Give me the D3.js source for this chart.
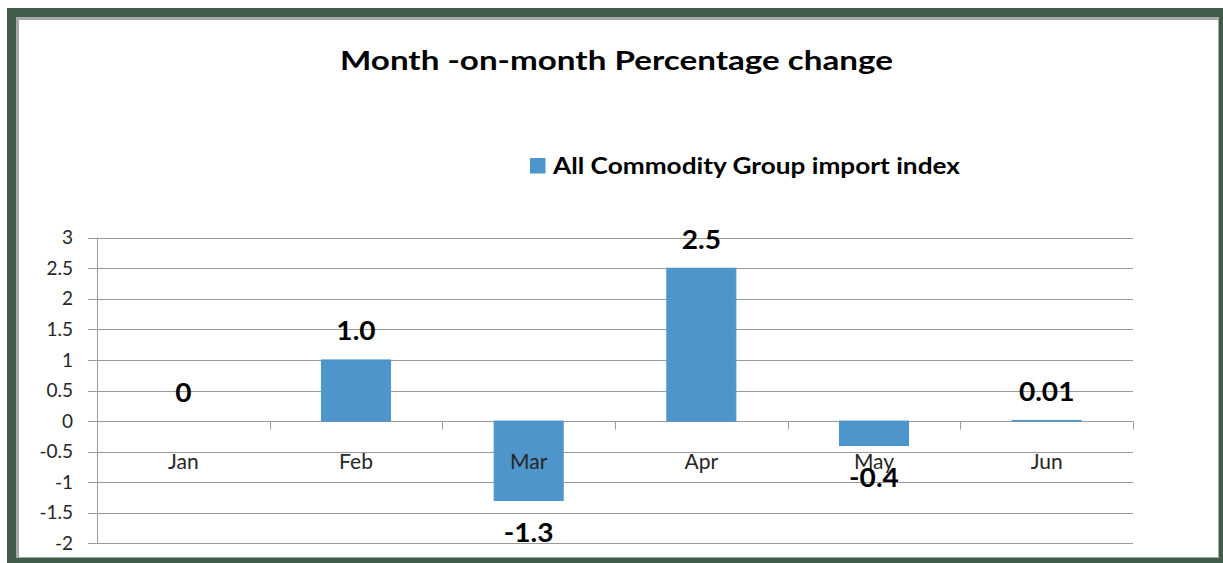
<!DOCTYPE html>
<html><head><meta charset="utf-8">
<script src="https://cdn.jsdelivr.net/npm/d3@7"></script>
<style>html,body{margin:0;padding:0;background:#fff;}svg{display:block;}</style>
</head><body>
<script>
const categories = ["Jan","Feb","Mar","Apr","May","Jun"];
const values = [0, 1.0, -1.3, 2.5, -0.4, 0.01];
const valueLabels = ["0","1.0","-1.3","2.5","-0.4","0.01"];
const yTicks = [3,2.5,2,1.5,1,0.5,0,-0.5,-1,-1.5,-2];
const seriesName = "All Commodity Group import index";
const title = "Month -on-month Percentage change";

const W = 1223, H = 563;
const svg = d3.select("body").append("svg").attr("width", W).attr("height", H);
const font = "Lato, 'Open Sans', sans-serif";

function stretch(sel, factor) {
  sel.each(function() {
    const len = this.getComputedTextLength();
    d3.select(this).attr("textLength", len * factor).attr("lengthAdjust", "spacingAndGlyphs");
  });
}

// frame
svg.append("rect").attr("x",0).attr("y",0).attr("width",W).attr("height",H).attr("fill","#fff");
svg.append("rect").attr("x",7).attr("y",8).attr("width",W-7).attr("height",H-8).attr("fill","#3f5d4a");
svg.append("rect").attr("x",16).attr("y",17).attr("width",1203).attr("height",541).attr("fill","#a8a8a8");
svg.append("rect").attr("x",19).attr("y",20).attr("width",1199).attr("height",537).attr("fill","#fff");

const x = d3.scaleBand().domain(categories).range([97,1133]).paddingInner(0.6).paddingOuter(0.3);
const xb = d3.scaleBand().domain(categories).range([97,1133]);
const y = d3.scaleLinear().domain([-2,3]).range([543.3,237.7]);

// gridlines
svg.append("g").selectAll("line").data(yTicks).join("line")
  .attr("x1",88).attr("x2",1133)
  .attr("y1",d=>Math.round(y(d))+0.5).attr("y2",d=>Math.round(y(d))+0.5)
  .attr("stroke","#9a9a9a").attr("stroke-width",1);

// y axis line
svg.append("line").attr("x1",97.5).attr("x2",97.5).attr("y1",y(3)).attr("y2",y(-2)+0.5)
  .attr("stroke","#9a9a9a");

// y tick labels
svg.append("g").selectAll("text").data(yTicks).join("text")
  .attr("x",73).attr("y",d=>y(d)).attr("dy","0.35em").attr("text-anchor","end")
  .attr("font-family",font).attr("font-size",19).attr("fill","#262626")
  .text(d=>d);

// category ticks on zero line
const zy = Math.round(y(0))+0.5;
svg.append("g").selectAll("line").data(categories).join("line")
  .attr("x1",(d,i)=>Math.round(97+xb.bandwidth()*(i+1))+0.5)
  .attr("x2",(d,i)=>Math.round(97+xb.bandwidth()*(i+1))+0.5)
  .attr("y1",zy).attr("y2",zy+8).attr("stroke","#9a9a9a");

// bars
svg.append("g").selectAll("rect").data(values).join("rect")
  .attr("x",(d,i)=>x(categories[i]))
  .attr("width",x.bandwidth())
  .attr("y",d=>y(Math.max(0,d)))
  .attr("height",d=>Math.abs(y(d)-y(0)))
  .attr("fill","#4e95cb").attr("stroke","#4e95cb").attr("stroke-width",d=>d===0?0:1);

// category labels
svg.append("g").selectAll("text").data(categories).join("text")
  .attr("x",d=>xb(d)+xb.bandwidth()/2).attr("y",468.5)
  .attr("text-anchor","middle").attr("font-family",font).attr("font-size",21).attr("fill","#262626")
  .text(d=>d);

// value labels
const vl = svg.append("g").selectAll("text").data(values).join("text")
  .attr("x",(d,i)=>xb(categories[i])+xb.bandwidth()/2)
  .attr("y",d=> d<0 ? y(d)+41.5 : y(d)-19.5)
  .attr("text-anchor","middle")
  .attr("font-family",font).attr("font-size",26).attr("font-weight","bold").attr("fill","#000")
  .text((d,i)=>valueLabels[i]);
stretch(vl, 1.08);

// title
const t = svg.append("text").attr("x",616.5).attr("y",69.5).attr("text-anchor","middle")
  .attr("font-family",font).attr("font-size",26).attr("font-weight","bold").attr("fill","#000")
  .attr("textLength",553).attr("lengthAdjust","spacingAndGlyphs")
  .text(title);

// legend
svg.append("rect").attr("x",530).attr("y",158).attr("width",15.5).attr("height",15.5).attr("fill","#4e95cb");
svg.append("text").attr("x",553).attr("y",174.3)
  .attr("font-family",font).attr("font-size",22).attr("font-weight","bold").attr("fill","#000")
  .attr("textLength",407).attr("lengthAdjust","spacingAndGlyphs")
  .text(seriesName);
</script>
</body></html>
